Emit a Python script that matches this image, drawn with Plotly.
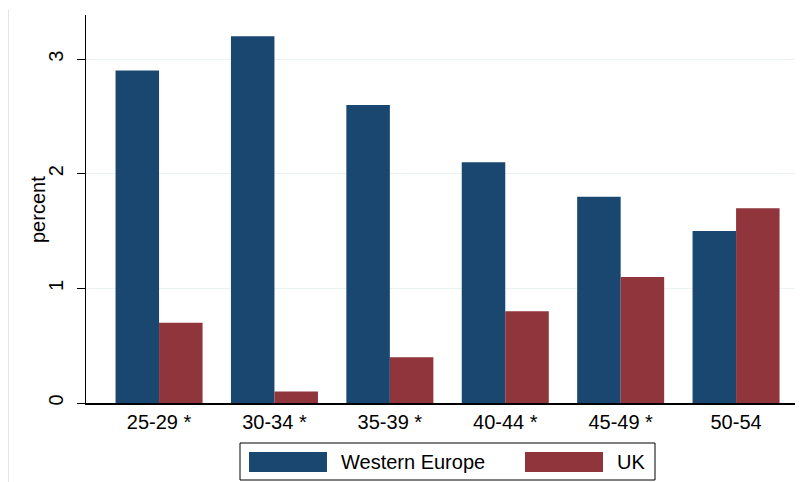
import plotly.graph_objects as go

categories = ["25-29 *", "30-34 *", "35-39 *", "40-44 *", "45-49 *", "50-54"]
western_europe = [2.9, 3.2, 2.6, 2.1, 1.8, 1.5]
uk = [0.7, 0.1, 0.4, 0.8, 1.1, 1.7]
series_names = ["Western Europe", "UK"]
y_ticks = [0, 1, 2, 3]
y_title = "percent"

BLUE = "#1a476f"
RED = "#90353b"
FONT = "Liberation Sans, Arial, sans-serif"

OFF = 8  # page body margin
W, H = 803 - OFF, 482 - OFF
# plot area in screen pixels
SX0, SX1, SY0, SY1 = 86, 803, 15, 403
L, R, T, B = SX0 - OFF, 803 - SX1, SY0 - OFF, 482 - SY1
PW, PH = SX1 - SX0, SY1 - SY0


def px(x):
    return (x - SX0) / PW


def py(y):
    return (SY1 - y) / PH


fig = go.Figure()
fig.add_trace(go.Bar(x=categories, y=western_europe, name=series_names[0],
                     marker=dict(color=BLUE, line=dict(width=0)), showlegend=False))
fig.add_trace(go.Bar(x=categories, y=uk, name=series_names[1],
                     marker=dict(color=RED, line=dict(width=0)), showlegend=False))

shapes = []
annotations = []
# legend box
shapes.append(dict(type="rect", xref="paper", yref="paper",
                   x0=px(240), x1=px(655), y0=py(443), y1=py(480),
                   line=dict(color="#000000", width=1), fillcolor="white"))
for i, (name, col) in enumerate(zip(series_names, [BLUE, RED])):
    sx = [249, 525][i]
    shapes.append(dict(type="rect", xref="paper", yref="paper",
                       x0=px(sx), x1=px(sx + 78), y0=py(452), y1=py(472),
                       line=dict(width=0), fillcolor=col))
    annotations.append(dict(text=name, xref="paper", yref="paper",
                            x=px(sx + 90), y=py(462), xanchor="left", yanchor="middle",
                            showarrow=False, font=dict(family=FONT, size=20, color="#000")))
# y-axis title
annotations.append(dict(text=y_title, xref="paper", yref="paper",
                        x=px(38), y=py(210), xanchor="center", yanchor="middle",
                        textangle=-90, showarrow=False,
                        font=dict(family=FONT, size=20, color="#000")))
# faint outer frame line
shapes.append(dict(type="line", xref="paper", yref="paper",
                   x0=px(8.5), x1=px(8.5), y0=py(10), y1=py(482),
                   line=dict(color="#e4e4e4", width=1)))

fig.update_layout(
    width=W, height=H,
    margin=dict(l=L, r=R, t=T, b=B, pad=0),
    paper_bgcolor="white", plot_bgcolor="white",
    barmode="group", bargap=0.246, bargroupgap=0,
    font=dict(family=FONT, size=20, color="#000"),
    shapes=shapes, annotations=annotations,
    xaxis=dict(range=[-0.633, 5.58], showgrid=False, showline=True,
               linecolor="#000", linewidth=1.5, ticks="", zeroline=False,
               tickfont=dict(size=20), fixedrange=True),
    yaxis=dict(range=[0, 3.385], tickvals=y_ticks, tickangle=-90,
               showgrid=True, gridcolor="#eaf2f3", gridwidth=1,
               showline=True, linecolor="#000", linewidth=1,
               ticks="outside", ticklen=8, tickcolor="#000",
               ticklabelstandoff=6,
               zeroline=False, tickfont=dict(size=20)),
)

fig.write_html("out.html")
